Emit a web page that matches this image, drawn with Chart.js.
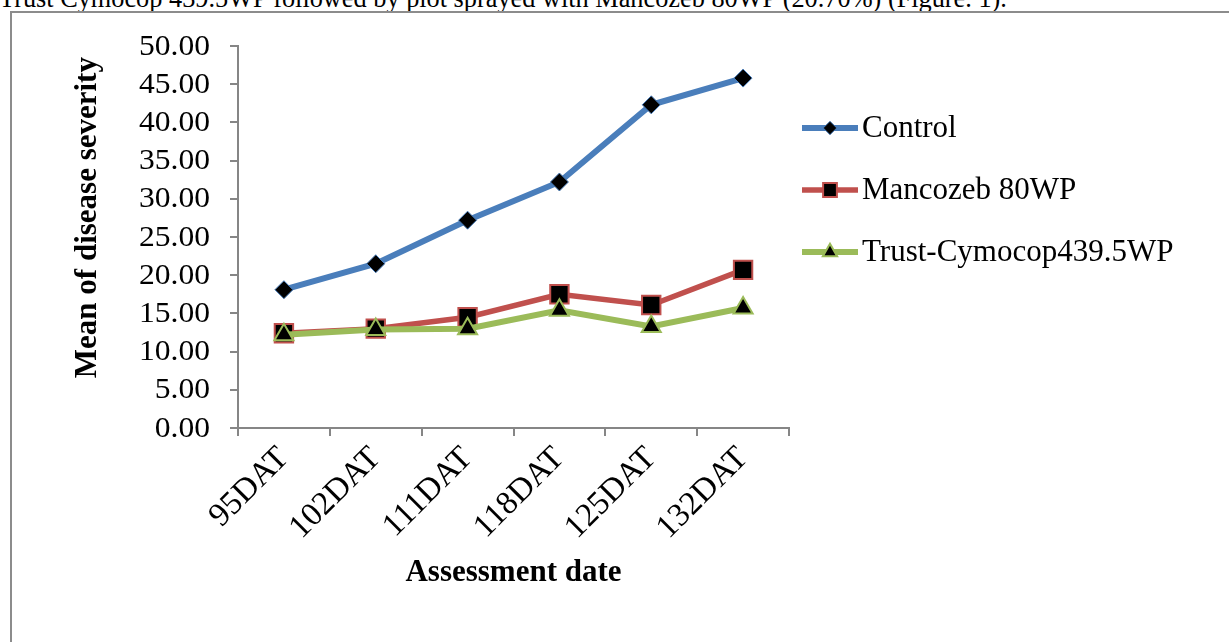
<!DOCTYPE html>
<html>
<head>
<meta charset="utf-8">
<script src="https://cdn.jsdelivr.net/npm/chart.js@4/dist/chart.umd.min.js"></script>
<style>
  html, body { margin: 0; padding: 0; background: #fff; overflow: hidden; }
  body { width: 1229px; height: 642px; position: relative; }
  #lead {
    position: absolute; left: -1px; top: -14px; white-space: nowrap;
    font: 26.3px/26px "Liberation Serif", "Times New Roman", serif; color: #000;
  }
  #frame {
    position: absolute; left: 10px; top: 11px; width: 1240px; height: 700px;
    border-top: 2px solid #8c8c8c; border-left: 2px solid #8c8c8c;
  }
  #wrap { position: absolute; left: 0; top: 0; width: 1229px; height: 642px; }
</style>
</head>
<body>
<div id="lead">Trust Cymocop 439.5WP followed by plot sprayed with Mancozeb 80WP (20.70%) (Figure. 1).</div>
<div id="frame"></div>
<div id="wrap"><canvas id="chart"></canvas></div>
<script>
// assessment dates and mean disease severity per treatment
const dates = ['95DAT', '102DAT', '111DAT', '118DAT', '125DAT', '132DAT'];
const control = [18.1, 21.5, 27.2, 32.2, 42.3, 45.8];
const mancozeb = [12.4, 13.0, 14.5, 17.5, 16.1, 20.7];
const trust = [12.2, 12.9, 13.0, 15.4, 13.3, 15.7];

const serif = '"Liberation Serif", "Times New Roman", serif';
const axisGray = '#868686';

// y tick labels in the source are horizontally squeezed; draw them from the scale's ticks
const squeezedYTicks = {
  id: 'squeezedYTicks',
  afterDraw(chart) {
    const s = chart.scales.y;
    const ctx = chart.ctx;
    ctx.save();
    ctx.font = '29px ' + serif;
    const sx = 71 / ctx.measureText('50.00').width;
    ctx.fillStyle = '#000';
    ctx.textAlign = 'right';
    ctx.textBaseline = 'middle';
    ctx.scale(sx, 1);
    s.ticks.forEach(function (t, i) {
      ctx.fillText(t.label, (s.right - 28) / sx, s.getPixelForTick(i) + 1);
    });
    ctx.restore();
  }
};

// legend with line + marker samples, like the spreadsheet legend
const lineLegend = {
  id: 'lineLegend',
  afterDraw(chart) {
    const ctx = chart.ctx;
    const rows = [128, 190, 252];
    chart.data.datasets.forEach(function (ds, i) {
      const y = rows[i];
      ctx.save();
      ctx.strokeStyle = ds.borderColor;
      ctx.lineWidth = ds.borderWidth;
      ctx.beginPath();
      ctx.moveTo(802, y);
      ctx.lineTo(858, y);
      ctx.stroke();
      ctx.fillStyle = ds.pointBackgroundColor;
      ctx.strokeStyle = ds.pointBorderColor;
      ctx.lineWidth = ds.pointBorderWidth;
      Chart.helpers.drawPoint(ctx, {
        pointStyle: ds.pointStyle,
        radius: ds.pointRadius * 0.75,
        rotation: 0,
        borderWidth: ds.pointBorderWidth
      }, 830, y);
      ctx.fillStyle = '#000';
      ctx.font = '31px ' + serif;
      ctx.textAlign = 'left';
      ctx.textBaseline = 'middle';
      ctx.fillText(ds.label, 862, y + 1);
      ctx.restore();
    });
  }
};

new Chart(document.getElementById('chart'), {
  type: 'line',
  data: {
    labels: dates,
    datasets: [{
      label: 'Control',
      data: control,
      borderColor: '#4a7ebb',
      borderWidth: 6,
      pointStyle: 'rectRot',
      pointRadius: 9,
      pointBackgroundColor: '#000',
      pointBorderColor: '#4a7ebb',
      pointBorderWidth: 1,
      order: 3
    }, {
      label: 'Mancozeb 80WP',
      data: mancozeb,
      borderColor: '#c0504d',
      borderWidth: 5.5,
      pointStyle: 'rect',
      pointRadius: 13,
      pointBackgroundColor: '#000',
      pointBorderColor: '#c0504d',
      pointBorderWidth: 2,
      order: 2
    }, {
      label: 'Trust-Cymocop439.5WP',
      data: trust,
      borderColor: '#9bbb59',
      borderWidth: 6,
      pointStyle: 'triangle',
      pointRadius: 11,
      pointBackgroundColor: '#000',
      pointBorderColor: '#9bbb59',
      pointBorderWidth: 2,
      order: 1
    }]
  },
  options: {
    responsive: true,
    maintainAspectRatio: false,
    animation: false,
    layout: { padding: { left: 0, top: 46, right: 440, bottom: 50 } },
    plugins: {
      legend: { display: false },
      tooltip: { enabled: false }
    },
    elements: { line: { tension: 0 } },
    scales: {
      x: {
        offset: true,
        grid: {
          offset: true, drawOnChartArea: false, drawTicks: true,
          tickLength: 8, color: axisGray, lineWidth: 2
        },
        border: { display: true, color: axisGray, width: 2 },
        ticks: {
          autoSkip: false, minRotation: 45, maxRotation: 45, padding: 3,
          color: '#000', font: { family: serif, size: 33 }
        },
        title: {
          display: true, text: 'Assessment date', color: '#000',
          font: { family: serif, size: 31, weight: 'bold' },
          padding: { top: 0, bottom: 0 }
        },
        afterFit(scale) { scale.height = 164; }
      },
      y: {
        min: 0,
        max: 50,
        ticks: { stepSize: 5, display: false, callback: v => v.toFixed(2) },
        grid: {
          drawOnChartArea: false, drawTicks: true,
          tickLength: 8, color: axisGray, lineWidth: 2
        },
        border: { display: true, color: axisGray, width: 2 },
        title: {
          display: true, text: '     Mean of disease severity', color: '#000',
          font: { family: serif, size: 31, weight: 'bold' },
          padding: { top: 69, bottom: 0 }
        },
        afterFit(scale) { scale.width = 238; }
      }
    }
  },
  plugins: [squeezedYTicks, lineLegend]
});
</script>
</body>
</html>
